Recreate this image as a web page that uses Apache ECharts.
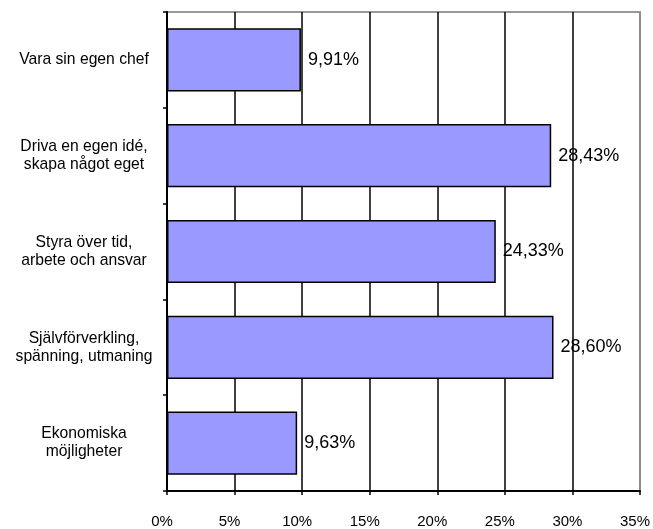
<!DOCTYPE html>
<html><head><meta charset="utf-8">
<script src="https://cdn.jsdelivr.net/npm/echarts@6/dist/echarts.min.js"></script>
<style>html,body{margin:0;padding:0;background:#fff}#c{width:653px;height:529px}</style>
</head><body><div id="c"></div>
<script>
var categories = ["Vara sin egen chef", "Driva en egen idé,\nskapa något eget", "Styra över tid,\narbete och ansvar", "Självförverkling,\nspänning, utmaning", "Ekonomiska\nmöjligheter"];
var values = [9.91, 28.43, 24.33, 28.60, 9.63];
var xTicks = [0, 5, 10, 15, 20, 25, 30, 35];

var chart = echarts.init(document.getElementById('c'), null, {renderer: 'canvas'});
chart.setOption({
  animation: false,
  backgroundColor: '#fff',
  grid: {left: 167, top: 12, right: 13, bottom: 36, show: true, borderColor: '#999', borderWidth: 2},
  xAxis: {
    type: 'value', min: xTicks[0], max: xTicks[xTicks.length-1], interval: 5,
    axisLine: {show: true, lineStyle: {color: '#000', width: 2}},
    axisTick: {show: true, length: 4, lineStyle: {color: '#000', width: 1.5}},
    axisLabel: {formatter: '{value}%', color: '#000', fontFamily: 'Liberation Sans, Arial', fontSize: 15, margin: 23, padding: [0, 10, 0, 0]},
    splitLine: {show: true, lineStyle: {color: ['#000', '#000', '#000', '#000', '#000', '#000', '#000', '#888'], width: 1.5}}
  },
  yAxis: {
    type: 'category', data: categories, inverse: true,
    axisLine: {show: true, lineStyle: {color: '#000', width: 2}},
    axisTick: {show: true, length: 4, lineStyle: {color: '#000', width: 1.5}},
    axisLabel: {color: '#000', fontFamily: 'Liberation Sans, Arial', fontSize: 15.7, align: 'center', margin: 83, lineHeight: 18}
  },
  series: [{
    type: 'bar', data: values, barCategoryGap: '34%',
    itemStyle: {color: '#9999ff', borderColor: '#000', borderWidth: 1.5},
    label: {show: true, position: 'right', distance: 7, color: '#000', fontFamily: 'Liberation Sans, Arial', fontSize: 18,
      formatter: function(p){ return p.value.toFixed(2).replace('.', ',') + '%'; }}
  }]
});
</script></body></html>
